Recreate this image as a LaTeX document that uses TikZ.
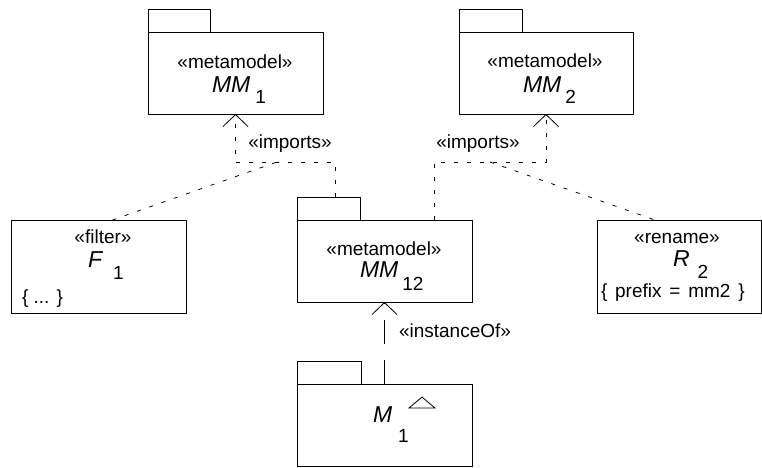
\documentclass[tikz,border=0pt]{standalone}
\usepackage{fontspec}
\setmainfont{Liberation Sans}
\usetikzlibrary{arrows.meta}
\newcommand\pkgsub[2]{\raisebox{-#1pt}{\fontsize{19}{22}\selectfont\upshape #2}}
\begin{document}
\begin{tikzpicture}[x=1pt,y=-1pt,
  box/.style={draw, line width=0.9pt, inner sep=0pt, outer sep=0pt},
  txt/.style={inner sep=0pt, outer sep=0pt, font=\fontsize{19}{22}\selectfont},
  nm/.style={inner sep=0pt, outer sep=0pt, font=\fontsize{23}{26}\selectfont\itshape},
  imp/.style={line width=0.8pt, dash pattern=on 4pt off 9pt},
  inst/.style={line width=0.8pt, dash pattern=on 24pt off 16pt},
  openarrow/.style={-{Straight Barb[length=12pt,width=25pt,line width=0.8pt]}}]
\useasboundingbox (0,0) rectangle (762,467);

% packages
\node[box, minimum width=175pt, minimum height=82pt] (mm1) at (235.5,73) {};
\node[box, minimum width=62pt, minimum height=23pt, anchor=south west] (mm1tab) at (mm1.north west) {};
\node[box, minimum width=174pt, minimum height=82pt] (mm2) at (546,73) {};
\node[box, minimum width=63pt, minimum height=23pt, anchor=south west] (mm2tab) at (mm2.north west) {};
\node[box, minimum width=175pt, minimum height=82pt] (mm12) at (384.5,261) {};
\node[box, minimum width=63pt, minimum height=23pt, anchor=south west] (mm12tab) at (mm12.north west) {};
\node[box, minimum width=175pt, minimum height=82pt] (m1) at (384.5,425) {};
\node[box, minimum width=64pt, minimum height=23pt, anchor=south west] (m1tab) at (m1.north west) {};
\node[box, minimum width=175pt, minimum height=93pt] (f1) at (98.5,266.5) {};
\node[box, minimum width=164pt, minimum height=93pt] (r2) at (679,266.5) {};

% texts
\node[txt, anchor=base] (mm1st) at (235,68) {«metamodel»};
\node[nm, anchor=base west] (mm1nm) at (212,92) {MM\hspace{5pt}\pkgsub{11}{1}};
\node[txt, anchor=base] (mm2st) at (545,67) {«metamodel»};
\node[nm, anchor=base west] (mm2nm) at (523,92) {MM\hspace{4pt}\pkgsub{11}{2}};
\node[txt, anchor=base] (mm12st) at (384,255) {«metamodel»};
\node[nm, anchor=base west] (mm12nm) at (360,277) {MM\hspace{4pt}\pkgsub{13}{12}};
\node[nm, anchor=base west] (m1nm) at (373,422) {M\hspace{6pt}\pkgsub{20}{1}};
\draw[line width=0.8pt] (m1.north west) ++(125,13) coordinate (tri) -- ++(-13,11) -- ++(26,0) -- cycle;

\node[txt, anchor=base] (f1st) at (103,243) {«filter»};
\node[nm, anchor=base west] (f1nm) at (88,267) {F\hspace{11pt}\pkgsub{12}{1}};
\node[txt, anchor=base west] (f1body) at (22,303) {\{ ... \}};

\node[txt, anchor=base] (r2st) at (677,243) {«rename»};
\node[nm, anchor=base west] (r2nm) at (673,266) {R\hspace{8pt}\pkgsub{12}{2}};
\node[txt, anchor=base west] (r2body) at (601,297) {\spaceskip=7.8pt\{ prefix = mm2 \}};

% connectors
\coordinate (h1) at (0,162);
\path (mm12tab.north west) ++(38,0) coordinate (a1);
\path (mm12.north west) ++(137,0) coordinate (a2);
\draw[imp, openarrow] (a1) -- (a1 |- h1) -- (mm1.south |- h1) -- (mm1.south);
\draw[imp, openarrow] (a2) -- (a2 |- h1) -- (mm2.south |- h1) -- (mm2.south);
\coordinate (fj) at (277,162);
\coordinate (rj) at (490,162);
\draw[imp] ([xshift=14pt]f1.north) -- (fj);
\draw[imp] (rj) -- ([xshift=-24pt]r2.north);
\draw[inst, openarrow] (m1.north) -- (mm12.south);

\node[txt, anchor=base] (imp1) at (290,148) {«imports»};
\node[txt, anchor=base] (imp2) at (478,148) {«imports»};
\node[txt, anchor=base west] (inst1) at (399,337) {«instanceOf»};
\end{tikzpicture}
\end{document}
